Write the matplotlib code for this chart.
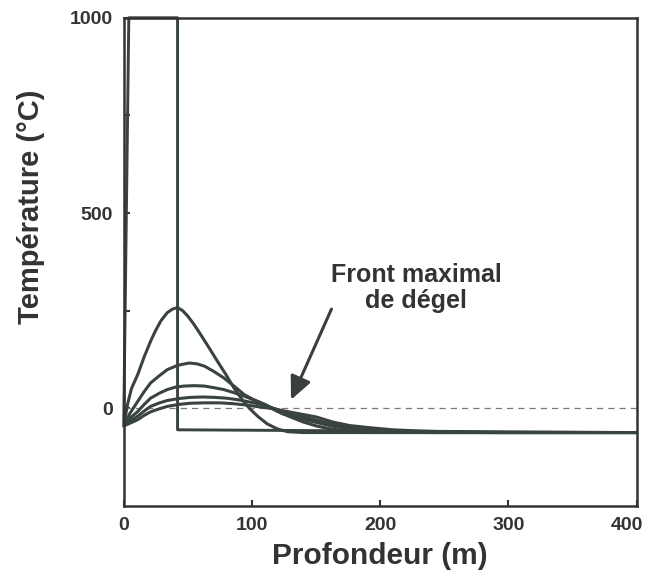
import matplotlib
matplotlib.use("Agg")

import matplotlib.pyplot as plt
import matplotlib.transforms as mtransforms

# initial profile (step)
step_x = [0, 4, 42, 42, 400]
step_y = [-45, 1000, 1000, -55, -62]

# temperature profiles at successive times
c1_x = [0, 3, 6, 11, 16, 21, 25, 29, 34, 38, 42, 46, 50, 55, 60, 66, 73, 80, 86,
        92, 98, 105, 112, 120, 128, 140, 400]
c1_y = [-45, 10, 50, 87, 132, 172, 200, 224, 245, 254, 258, 250, 236, 214, 189, 158,
        121, 85, 52, 24, 0, -22, -40, -53, -60, -62, -62]

c2_x = [0, 5, 11, 16, 21, 28, 34, 42, 51, 57, 63, 70, 78, 86, 94, 102, 111, 120,
        130, 140, 150, 160, 168, 180, 190, 400]
c2_y = [-45, -12, 18, 43, 65, 84, 99, 110, 116, 114, 108, 95, 78, 57, 35, 21, 8, -8,
        -22, -35, -45, -52, -56, -60, -62, -62]

c3_x = [0, 5, 11, 16, 21, 28, 34, 40, 47, 55, 63, 70, 78, 86, 94, 102, 110, 117,
        124, 137, 150, 163, 176, 188, 200, 220, 240, 400]
c3_y = [-45, -25, -8, 10, 26, 39, 48, 54, 57, 58, 57, 53, 48, 40, 31, 21, 10, -2,
        -14, -26, -36, -46, -53, -57, -60, -61.5, -62, -62]

c4_x = [0, 5, 11, 16, 21, 28, 34, 43, 52, 62, 71, 80, 89, 100, 110, 117, 124, 137,
        150, 163, 176, 188, 200, 225, 250, 280, 400]
c4_y = [-45, -33, -20, -7, 5, 14, 20, 25, 28, 29, 28, 26, 22, 15, 8, 0, -8, -20,
        -30, -41, -49, -53, -56, -59, -61, -62, -62]

c5_x = [0, 5, 11, 16, 21, 28, 34, 43, 52, 63, 75, 85, 94, 103, 112, 118, 124, 137,
        150, 163, 176, 193, 210, 230, 250, 290, 400]
c5_y = [-45, -38, -29, -18, -9, -1, 5, 10, 13, 14, 14, 12, 9, 5, 1, -2, -6, -14,
        -22, -35, -44, -50, -55, -58, -60, -62, -62]

curves = [(c1_x, c1_y), (c2_x, c2_y), (c3_x, c3_y), (c4_x, c4_y), (c5_x, c5_y)]

line_col = "#39443f"
text_col = "#333333"
font = "Liberation Sans"

fig = plt.figure(figsize=(6.51, 5.73), dpi=100)
ax = fig.add_axes([0.190, 0.117, 0.788, 0.852])

ax.plot([0, 400], [0, 0], ls=(0, (5, 4)), color="#7a7a7a", lw=0.9)
ax.plot(step_x, step_y, color=line_col, lw=2.1, clip_on=False,
        solid_joinstyle="round")
for cx, cy in curves:
    ax.plot(cx, cy, color=line_col, lw=2.2, solid_joinstyle="round")

ax.set_xlim(0, 400)
ax.set_ylim(-250, 1000)
ax.set_xticks([0, 100, 200, 300, 400])
ax.set_yticks([0, 250, 500, 750, 1000])
ax.set_yticklabels(["0", "", "500", "", "1000"])
ax.tick_params(direction="in", length=4, width=1.5, color=text_col, pad=8,
               labelsize=14, labelcolor=text_col)
for lab in ax.get_xticklabels() + ax.get_yticklabels():
    lab.set_fontfamily(font)
    lab.set_fontweight("bold")
# pull the last x label a bit left so it stays inside the figure
last = ax.get_xticklabels()[-1]
last.set_transform(last.get_transform() +
                   mtransforms.ScaledTranslation(-7 / 72, 0, fig.dpi_scale_trans))
for sp in ax.spines.values():
    sp.set_linewidth(1.8)
    sp.set_color(text_col)

ax.set_xlabel("Profondeur (m)", fontsize=21.5, fontweight="bold", family=font,
              color=text_col, labelpad=6)
ax.set_ylabel("Température (°C)", fontsize=21, fontweight="bold", family=font,
              color=text_col)
ax.yaxis.set_label_coords(-0.154, 0.613)

ax.annotate("", xy=(130.5, 22), xytext=(162, 254),
            arrowprops=dict(arrowstyle="-|>,head_length=1.4,head_width=0.65",
                            color="#3a3f3d", lw=2.2, shrinkA=0, shrinkB=0))
ax.text(228, 308, "Front maximal\nde dégel", ha="center", va="center",
        fontsize=18, fontweight="bold", family=font, color=text_col,
        linespacing=1.1)

fig.savefig("out.png", dpi=100)
